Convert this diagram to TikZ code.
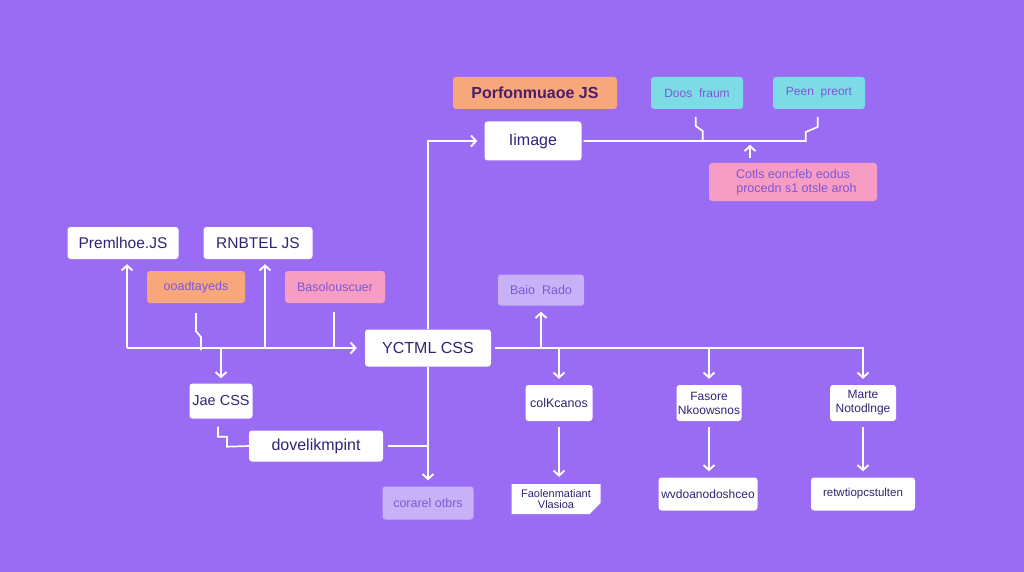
\documentclass[tikz,border=0pt]{standalone}
\usepackage{fontspec}
\setmainfont{Liberation Sans}
\usetikzlibrary{arrows.meta,shapes.misc,calc}
\definecolor{bg}{HTML}{9A6CF4}
\definecolor{ink}{HTML}{2E2672}
\definecolor{orangeC}{HTML}{F8A67C}
\definecolor{cyanC}{HTML}{7DDBE6}
\definecolor{pinkC}{HTML}{F79CC3}
\definecolor{lavC}{HTML}{C8B2F7}
\definecolor{softink}{HTML}{7E58D6}
\begin{document}
\begin{tikzpicture}[x=1pt,y=-1pt,
  box/.style={rounded corners=3pt, inner sep=0pt, align=center, font=\fontsize{12}{13}\selectfont},
  wbox/.style={box, fill=white, text=ink},
  obox/.style={box, fill=orangeC, text=softink},
  cbox/.style={box, fill=cyanC, text=softink},
  pbox/.style={box, fill=pinkC, text=softink},
  lbox/.style={box, fill=lavC, text=softink},
  line/.style={white, line width=1.7pt},
  arr/.style={line, -{Straight Barb[length=5pt,width=11pt,line width=1.9pt]}}]
\fill[bg] (0,0) rectangle (1024,572);
\useasboundingbox (0,0) rectangle (1024,572);

% top area
\node[obox, minimum width=164, minimum height=32, text=ink!80!purple, font=\fontsize{16}{17}\selectfont\bfseries] (perf) at (535,93) {Porfonmuaoe JS};
\node[wbox, minimum width=97, minimum height=39, font=\fontsize{16}{17}\selectfont] (img) at (533,141) {Iimage};
\node[cbox, minimum width=92, minimum height=32, font=\fontsize{12}{13}\selectfont] (doo) at (697,93) {Doos\ \ fraum};
\node[cbox, minimum width=92, minimum height=32, font=\fontsize{12}{13}\selectfont] (pee) at (819,93) {Peen\ \ preort};
\node[pbox, minimum width=168, minimum height=38, font=\fontsize{12.5}{14}\selectfont] (pnk) at (793,182) {Cotls\ eoncfeb\ eodus\\\ \ procedn\ s1\ otsle\ aroh};

% left area
\node[wbox, minimum width=111, minimum height=32, font=\fontsize{15.5}{16}\selectfont] (pre) at (123,243) {Premlhoe.JS};
\node[wbox, minimum width=109, minimum height=32, font=\fontsize{15.5}{16}\selectfont] (rnb) at (258,243) {RNBTEL JS};
\node[obox, minimum width=98, minimum height=32, font=\fontsize{12.5}{13}\selectfont] (ood) at (196,287) {ooadtayeds};
\node[pbox, minimum width=100, minimum height=32, font=\fontsize{12.5}{13}\selectfont] (bas) at (335,287) {Basolouscuer};
\node[wbox, minimum width=126, minimum height=37, font=\fontsize{16}{17}\selectfont] (yct) at (428,348) {YCTML CSS};
\node[wbox, minimum width=63, minimum height=35, font=\fontsize{14.5}{16}\selectfont] (jae) at (221,401) {Jae CSS};
\node[wbox, minimum width=134, minimum height=31, font=\fontsize{16}{17}\selectfont] (dov) at (316,446) {dovelikmpint};
\node[lbox, minimum width=91, minimum height=33, font=\fontsize{12.5}{13}\selectfont] (cor) at (428,503) {corarel otbrs};

% right area
\node[lbox, minimum width=86, minimum height=31, font=\fontsize{12.5}{13}\selectfont] (bai) at (541,290) {Baio\ \ Rado};
\node[wbox, minimum width=67, minimum height=36, font=\fontsize{12.5}{13}\selectfont] (col) at (559,403) {colKcanos};
\node[wbox, minimum width=65, minimum height=36, font=\fontsize{12}{14}\selectfont] (fas) at (709,403) {Fasore\\Nkoowsnos};
\node[wbox, minimum width=66, minimum height=36, font=\fontsize{12}{14}\selectfont] (mar) at (863,403) {Marte\\Notodlnge};
\node[chamfered rectangle, chamfered rectangle corners=south east, chamfered rectangle xsep=6pt, chamfered rectangle ysep=5pt,
      fill=white, text=ink, inner sep=0pt, align=center, minimum width=89, minimum height=30, font=\fontsize{11}{11.5}\selectfont] (fao) at (556,499) {Faolenmatiant\\Vlasioa};
\node[wbox, minimum width=99, minimum height=33, font=\fontsize{12}{13}\selectfont] (wvd) at (708,494) {wvdoanodoshceo};
\node[wbox, minimum width=104, minimum height=33, font=\fontsize{11.5}{13}\selectfont] (ret) at (863,494) {retwtiopcstulten};

% junction coordinates
\coordinate (hL) at (127,348);
\coordinate (hR) at (265,348);
\coordinate (hJ) at (221,348);
\coordinate (hB) at (541,348);
\coordinate (h1) at (559,348);
\coordinate (h2) at (709,348);
\coordinate (h3) at (863,348);
\coordinate (hE) at (864,348);
\coordinate (vD) at (428,446);

% left connectors
\draw[arr, shorten >=8pt] (hL) -- (yct.west);
\draw[arr, shorten >=5pt] (hL) -- (hL |- pre.south);
\draw[arr, shorten >=5pt] (hR) -- (hR |- rnb.south);
\draw[line] ($(ood.south)+(0,10)$) -- ++(0,18) -- ++(5,6) -- ++(0,13);
\draw[line] ($(bas.south)+(-1,9)$) -- ++(0,36);
\draw[arr, shorten >=5pt] (hJ) -- (jae.north);
\draw[line] ($(jae.south)+(-3,8)$) -- ++(0,10) -- ++(9,0) -- ++(0,10) -- (dov.west);
\draw[line] ($(dov.east)+(5,0)$) -- (vD);
\draw[arr, shorten >=6pt] (yct.south) -- (cor.north);
\draw[arr, shorten >=7pt] (yct.north) |- (img.west);

% top connectors
\draw[line] ($(img.east)+(2,0)$) -- ++(222,0) -- ++(0,-9) -- ++(12,-5) -- ++(0,-10);
\draw[line] ($(img.east)+(121,0)$) -- ++(0,-10) -- ++(-7,-5) -- ++(0,-9);
\draw[arr] ($(pnk.north)+(-43,-5)$) -- ++(0,-13);

% right connectors
\draw[line] ($(yct.east)+(4,0)$) -- (hE);
\draw[arr, shorten >=6pt] (hB) -- (bai.south);
\draw[arr, shorten >=6pt] (h1) -- (col.north);
\draw[arr, shorten >=6pt] (h2) -- (fas.north);
\draw[arr, shorten >=6pt] (h3) -- (mar.north);
\draw[arr, shorten >=7pt] ($(col.south)+(0,6)$) -- (col.south |- fao.north);
\draw[arr, shorten >=6pt] ($(fas.south)+(0,6)$) -- (fas.south |- wvd.north);
\draw[arr, shorten >=6pt] ($(mar.south)+(0,6)$) -- (mar.south |- ret.north);
\end{tikzpicture}
\end{document}
